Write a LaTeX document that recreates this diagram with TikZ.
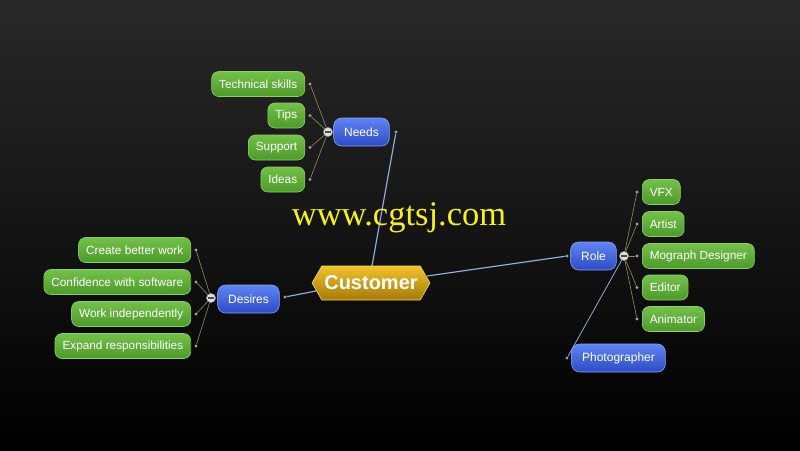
\documentclass[tikz,border=0pt]{standalone}
\usepackage{fontspec}
\setmainfont{Liberation Sans}
\newfontfamily\wmfont{Liberation Serif}
\usetikzlibrary{shapes.symbols}
\pgfdeclarelayer{bg}
\pgfdeclarelayer{lines}
\pgfsetlayers{bg,lines,main}
\definecolor{leafTop}{HTML}{74C04A}
\definecolor{leafBot}{HTML}{4C9A2A}
\definecolor{leafEdge}{HTML}{8ED066}
\definecolor{topicTop}{HTML}{5F84F2}
\definecolor{topicBot}{HTML}{2D4CC4}
\definecolor{topicEdge}{HTML}{86A2F6}
\definecolor{goldTop}{HTML}{F0C22C}
\definecolor{goldBot}{HTML}{A67A0A}
\definecolor{goldEdge}{HTML}{F6D86A}
\definecolor{mainline}{HTML}{8FAAD8}
\definecolor{subline}{HTML}{8E8C62}
\definecolor{wm}{HTML}{F5F01E}
\tikzset{
  leaf/.style={rounded corners=7pt, top color=leafTop, bottom color=leafBot,
    draw=leafEdge, line width=0.6pt, minimum height=25pt, inner xsep=7.5pt,
    inner ysep=0pt, text=white, font=\fontsize{11.8}{13}\selectfont},
  topic/.style={rounded corners=8pt, top color=topicTop, bottom color=topicBot,
    draw=topicEdge, line width=0.6pt, minimum height=28pt, inner xsep=10.5pt,
    inner ysep=0pt, text=white, font=\fontsize{12}{13}\selectfont},
  hub/.style={signal, signal to=east and west, signal pointer angle=120,
    top color=goldTop, bottom color=goldBot, draw=goldEdge, line width=0.6pt,
    minimum height=34pt, minimum width=118pt, inner xsep=2pt, inner ysep=0pt,
    text=white, font=\bfseries\fontsize{20}{22}\selectfont},
  collapse/.style={circle, fill=gray!25, draw=gray!70, line width=0.5pt,
    minimum size=9pt, inner sep=0pt,
    path picture={\draw[line width=1.3pt, black!70]
      ([xshift=-2.6pt]path picture bounding box.center) --
      ([xshift=2.6pt]path picture bounding box.center);}},
  dot/.style={circle, fill=gray!75, minimum size=3.2pt, inner sep=0pt},
  mainconn/.style={draw=mainline, line width=1.2pt},
  subconn/.style={draw=subline, line width=0.6pt}
}
\begin{document}
\begin{tikzpicture}[x=1pt,y=-1pt]
\useasboundingbox (0,0) rectangle (800,450);
\begin{pgfonlayer}{bg}
  \shade[top color=black!84, bottom color=black] (0,0) rectangle (800,450);
\end{pgfonlayer}

% hub
\node[hub] (cust) at (371,283) {Customer};

% topics
\node[topic] (needs) at (361.5,132) {Needs};
\node[topic] (desires) at (248.5,299) {Desires};
\node[topic] (role) at (593.5,256) {Role};
\node[topic] (photo) at (618.5,358) {Photographer};

% collapse buttons
\node[collapse] (needsC) at (328,132) {};
\node[collapse] (desiresC) at (211,298) {};
\node[collapse] (roleC) at (624,256) {};

% dots of topics
\node[dot] (needsD) at (396,132) {};
\node[dot] (desiresD) at (285,297) {};
\node[dot] (roleD) at (567,256) {};
\node[dot] (photoD) at (567,358) {};

% Needs leaves
\node[leaf, anchor=east] (tech) at (305,84) {Technical skills};
\node[leaf, anchor=east] (tips) at (305,115.5) {Tips};
\node[leaf, anchor=east] (supp) at (305,147.5) {Support};
\node[leaf, anchor=east] (ideas) at (305,179.5) {Ideas};
\node[dot] (techD) at (310,84) {};
\node[dot] (tipsD) at (310,115.5) {};
\node[dot] (suppD) at (310,147.5) {};
\node[dot] (ideasD) at (310,179.5) {};

% Desires leaves
\node[leaf, anchor=east] (cbw) at (191,250) {Create better work};
\node[leaf, anchor=east] (cws) at (191,282) {Confidence with software};
\node[leaf, anchor=east] (wi) at (191,314) {Work independently};
\node[leaf, anchor=east] (er) at (191,346) {Expand responsibilities};
\node[dot] (cbwD) at (196,250) {};
\node[dot] (cwsD) at (196,282) {};
\node[dot] (wiD) at (196,314) {};
\node[dot] (erD) at (196,346) {};

% Role leaves
\node[leaf, anchor=west] (vfx) at (642,192) {VFX};
\node[leaf, anchor=west] (artist) at (642,224) {Artist};
\node[leaf, anchor=west] (mograph) at (642,256) {Mograph Designer};
\node[leaf, anchor=west] (editor) at (642,287.5) {Editor};
\node[leaf, anchor=west] (anim) at (642,319) {Animator};
\node[dot] (vfxD) at (637,192) {};
\node[dot] (artistD) at (637,224) {};
\node[dot] (mographD) at (637,256) {};
\node[dot] (editorD) at (637,287.5) {};
\node[dot] (animD) at (637,319) {};

\coordinate (custT) at (372,266);
\coordinate (custL) at (316,291);
\coordinate (custR) at (427,276);

\begin{pgfonlayer}{lines}
  \draw[mainconn] (needsD) -- (custT);
  \draw[mainconn] (desiresD) -- (custL);
  \draw[mainconn] (roleD) -- (custR);
  \draw[mainconn, line width=0.8pt] (photoD) -- (roleC);
  \foreach \n in {techD,tipsD,suppD,ideasD} \draw[subconn] (\n) -- (needsC);
  \foreach \n in {cbwD,cwsD,wiD,erD} \draw[subconn] (\n) -- (desiresC);
  \foreach \n in {vfxD,artistD,mographD,editorD,animD} \draw[subconn] (\n) -- (roleC);
\end{pgfonlayer}

% watermark
\node[text=wm, font=\wmfont\fontsize{34.5}{38}\selectfont, inner sep=0pt] (wmark) at (399,218) {www.cgtsj.com};
\end{tikzpicture}
\end{document}
